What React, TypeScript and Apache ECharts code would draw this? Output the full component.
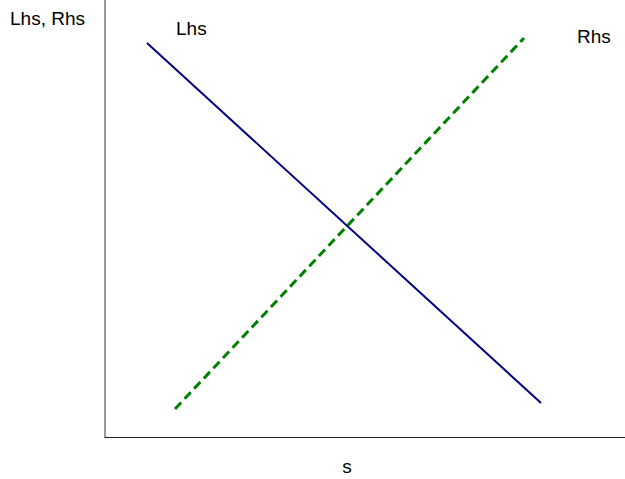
import React, { useEffect, useRef } from "react";
import * as echarts from "echarts";

// Data (x: s, y: Lhs/Rhs value, arbitrary units)
const lhsS = [42, 436];
const lhsV = [394, 34];
const rhsS = [70, 419];
const rhsV = [28, 399];
const yAxisTitle = "Lhs, Rhs";
const xAxisTitle = "s";
const lhsLabel = "Lhs";
const rhsLabel = "Rhs";

export default function App() {
  const ref = useRef<HTMLDivElement>(null);
  useEffect(() => {
    if (!ref.current) return;
    const chart = echarts.init(ref.current, null, { renderer: "svg" });
    const font = "'Liberation Sans', Arial, sans-serif";
    const textStyle = { fontFamily: font, fontSize: 19, fill: "#000" };
    chart.setOption({
      animation: false,
      backgroundColor: "#fff",
      grid: { left: 105, right: 0, top: 0, bottom: 42, containLabel: false },
      xAxis: {
        type: "value",
        min: 0,
        max: 520,
        axisLine: { show: true, onZero: false, lineStyle: { color: "#222", width: 1 } },
        axisTick: { show: false },
        axisLabel: { show: false },
        splitLine: { show: false },
      },
      yAxis: {
        type: "value",
        min: 0,
        max: 437,
        axisLine: { show: true, onZero: false, lineStyle: { color: "#777", width: 1.5 } },
        axisTick: { show: false },
        axisLabel: { show: false },
        splitLine: { show: false },
      },
      series: [
        {
          name: lhsLabel,
          type: "line",
          data: lhsS.map((s, i) => [s, lhsV[i]]),
          symbol: "none",
          lineStyle: { color: "#000080", width: 2 },
        },
        {
          name: rhsLabel,
          type: "line",
          data: rhsS.map((s, i) => [s, rhsV[i]]),
          symbol: "none",
          lineStyle: { color: "#008000", width: 3, type: [9, 5], cap: "butt" },
        },
      ],
      graphic: [
        { type: "text", left: 10, top: 9, style: { ...textStyle, text: yAxisTitle } },
        { type: "text", left: 176, top: 19, style: { ...textStyle, text: lhsLabel } },
        { type: "text", left: 577, top: 27, style: { ...textStyle, text: rhsLabel } },
        {
          type: "text",
          x: 347,
          y: 466,
          style: { ...textStyle, text: xAxisTitle, textAlign: "center", textVerticalAlign: "middle" },
        },
      ],
    });
    return () => chart.dispose();
  }, []);
  return (
    <div
      ref={ref}
      style={{ position: "fixed", left: 0, top: 0, width: 625, height: 479, background: "#fff" }}
    />
  );
}
